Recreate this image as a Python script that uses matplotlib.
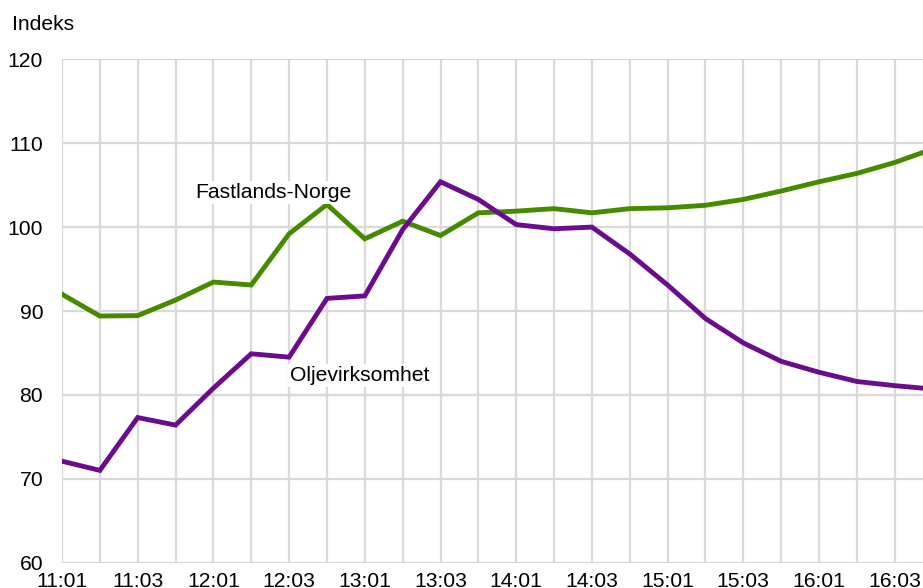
import matplotlib
matplotlib.use("Agg")
import matplotlib.pyplot as plt

plt.rcParams['font.family'] = ['Liberation Sans', 'DejaVu Sans']

periods = ["11:01", "11:02", "11:03", "11:04", "12:01", "12:02", "12:03", "12:04",
           "13:01", "13:02", "13:03", "13:04", "14:01", "14:02", "14:03", "14:04",
           "15:01", "15:02", "15:03", "15:04", "16:01", "16:02", "16:03", "16:04"]
fastlands = [92.0, 89.4, 89.45, 91.3, 93.45, 93.1, 99.2, 102.7, 98.6, 100.7, 99.0, 101.7,
             101.9, 102.2, 101.7, 102.2, 102.3, 102.6, 103.3, 104.3, 105.4, 106.4, 107.7, 109.3]
olje = [72.1, 71.0, 77.3, 76.4, 80.8, 84.9, 84.5, 91.5, 91.8, 99.7, 105.4, 103.3,
        100.3, 99.8, 100.0, 96.8, 93.1, 89.1, 86.2, 84.0, 82.7, 81.6, 81.1, 80.7]
yticks = [60, 70, 80, 90, 100, 110, 120]

W, H = 923, 588
fig = plt.figure(figsize=(W / 100, H / 100), dpi=100)
ax = fig.add_axes([62 / W, 1 - 562.7 / H, 1 - 62 / W, (562.7 - 59.3) / H])

x = list(range(len(periods)))
green = '#468A00'
purple = '#6B0C8C'
ax.plot(x, fastlands, color=green, lw=3.5, solid_joinstyle='miter', zorder=3)
ax.plot(x, olje, color=purple, lw=3.5, solid_joinstyle='miter', zorder=3)

ax.set_yticks(yticks)
ax.set_xticks(x)
ax.set_xticklabels([p if i % 2 == 0 else "" for i, p in enumerate(periods)])
ax.set_xlim(0, (W - 62) / 37.85)
ax.set_ylim(60, 120)
ax.grid(True, color='#d9d9d9', lw=1.6, zorder=0)
ax.set_axisbelow(True)
for s in ax.spines.values():
    s.set_visible(False)
ax.tick_params(axis='both', length=0, labelsize=15.2, colors='black')
ax.tick_params(axis='y', pad=13.5)
ax.tick_params(axis='x', pad=6.5)

ax.text(5.58, 104.17, "Fastlands-Norge", fontsize=15.2, ha='center', va='center',
        bbox=dict(facecolor='white', edgecolor='none', pad=1.5), zorder=4)
ax.text(7.87, 82.35, "Oljevirksomhet", fontsize=15.2, ha='center', va='center',
        bbox=dict(facecolor='white', edgecolor='none', pad=1.5), zorder=4)

fig.text(12 / W, 1 - 24 / H, "Indeks", fontsize=15.2, ha='left', va='center')

fig.savefig("out.png", dpi=100)
